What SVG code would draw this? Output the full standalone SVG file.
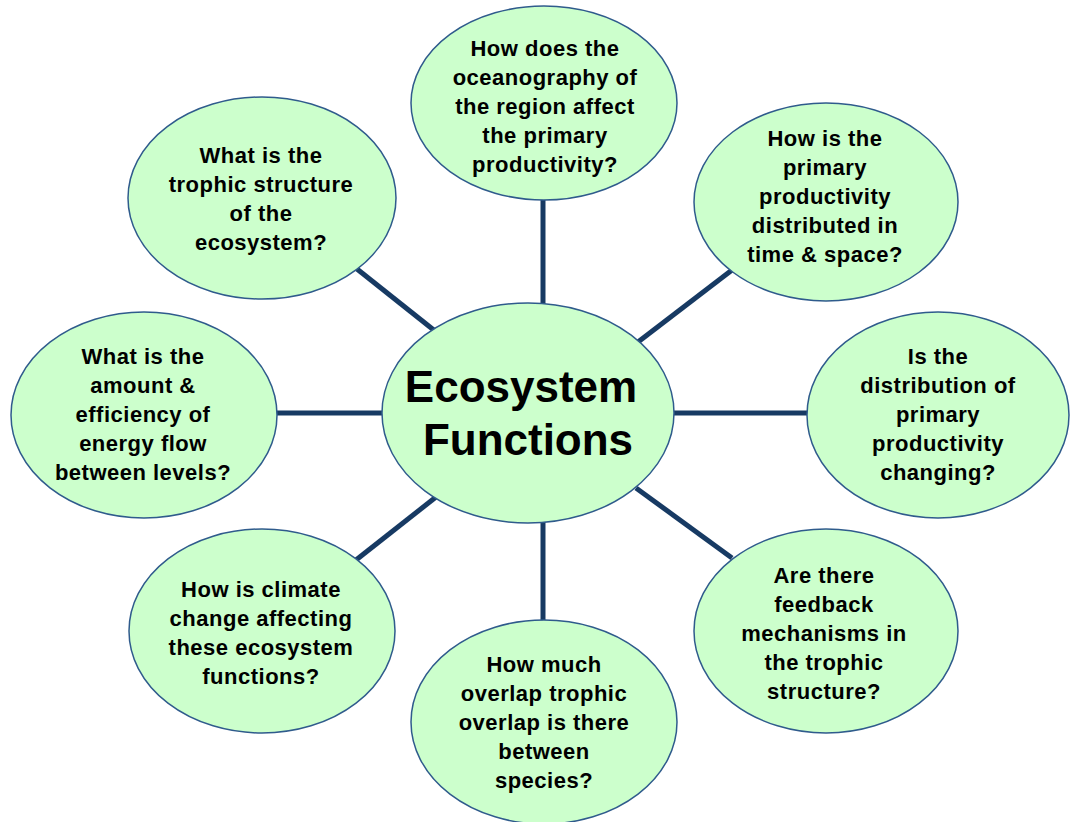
<svg xmlns="http://www.w3.org/2000/svg" width="1070" height="822" viewBox="0 0 1070 822">
<style>
.n{fill:#ccffcc;stroke:#2f5b8c;stroke-width:1.5}
.t{font-family:"Liberation Sans",Arial,sans-serif;font-weight:bold;font-size:22px;letter-spacing:0.5px;fill:#000;text-anchor:middle}
.c{font-family:"Liberation Sans",Arial,sans-serif;font-weight:bold;font-size:44px;fill:#000;text-anchor:middle}
.l{stroke:#173a63;stroke-width:5;fill:none}
</style>
<rect width="1070" height="822" fill="#ffffff"/>
<g id="connectors">
<line class="l" x1="543" y1="195" x2="543" y2="306"/>
<line class="l" x1="732" y1="270" x2="638" y2="342"/>
<line class="l" x1="672" y1="413" x2="810" y2="413"/>
<line class="l" x1="636" y1="488" x2="732" y2="558"/>
<line class="l" x1="543" y1="518" x2="543" y2="622"/>
<line class="l" x1="436" y1="497" x2="356" y2="560"/>
<line class="l" x1="275" y1="413" x2="386" y2="413"/>
<line class="l" x1="357" y1="269" x2="435" y2="331"/>
</g>
<g id="center">
<ellipse class="n" cx="528" cy="413" rx="146" ry="110"/>
<text class="c" x="521" y="402">Ecosystem</text>
<text class="c" x="528" y="455">Functions</text>
</g>
<g id="top">
<ellipse class="n" cx="544" cy="103" rx="133" ry="97"/>
<text class="t" x="545" y="56">How does the</text>
<text class="t" x="545" y="85">oceanography of</text>
<text class="t" x="545" y="114">the region affect</text>
<text class="t" x="545" y="143">the primary</text>
<text class="t" x="545" y="172">productivity?</text>
</g>
<g id="top-right">
<ellipse class="n" cx="826" cy="202" rx="132" ry="99"/>
<text class="t" x="825" y="146">How is the</text>
<text class="t" x="825" y="175">primary</text>
<text class="t" x="825" y="204">productivity</text>
<text class="t" x="825" y="233">distributed in</text>
<text class="t" x="825" y="262">time &amp; space?</text>
</g>
<g id="right">
<ellipse class="n" cx="938" cy="415" rx="131" ry="103"/>
<text class="t" x="938" y="364">Is the</text>
<text class="t" x="938" y="393">distribution of</text>
<text class="t" x="938" y="422">primary</text>
<text class="t" x="938" y="451">productivity</text>
<text class="t" x="938" y="480">changing?</text>
</g>
<g id="bottom-right">
<ellipse class="n" cx="826" cy="631" rx="132" ry="102"/>
<text class="t" x="824" y="583">Are there</text>
<text class="t" x="824" y="612">feedback</text>
<text class="t" x="824" y="641">mechanisms in</text>
<text class="t" x="824" y="670">the trophic</text>
<text class="t" x="824" y="699">structure?</text>
</g>
<g id="bottom">
<ellipse class="n" cx="544" cy="722" rx="133" ry="102"/>
<text class="t" x="544" y="672">How much</text>
<text class="t" x="544" y="701">overlap trophic</text>
<text class="t" x="544" y="730">overlap is there</text>
<text class="t" x="544" y="759">between</text>
<text class="t" x="544" y="788">species?</text>
</g>
<g id="bottom-left">
<ellipse class="n" cx="262" cy="631" rx="133" ry="102"/>
<text class="t" x="261" y="597">How is climate</text>
<text class="t" x="261" y="626">change affecting</text>
<text class="t" x="261" y="655">these ecosystem</text>
<text class="t" x="261" y="684">functions?</text>
</g>
<g id="left">
<ellipse class="n" cx="144" cy="415" rx="133" ry="103"/>
<text class="t" x="143" y="364">What is the</text>
<text class="t" x="143" y="393">amount &amp;</text>
<text class="t" x="143" y="422">efficiency of</text>
<text class="t" x="143" y="451">energy flow</text>
<text class="t" x="143" y="480">between levels?</text>
</g>
<g id="top-left">
<ellipse class="n" cx="262" cy="198" rx="134" ry="101"/>
<text class="t" x="261" y="163">What is the</text>
<text class="t" x="261" y="192">trophic structure</text>
<text class="t" x="261" y="221">of the</text>
<text class="t" x="261" y="250">ecosystem?</text>
</g>
</svg>
